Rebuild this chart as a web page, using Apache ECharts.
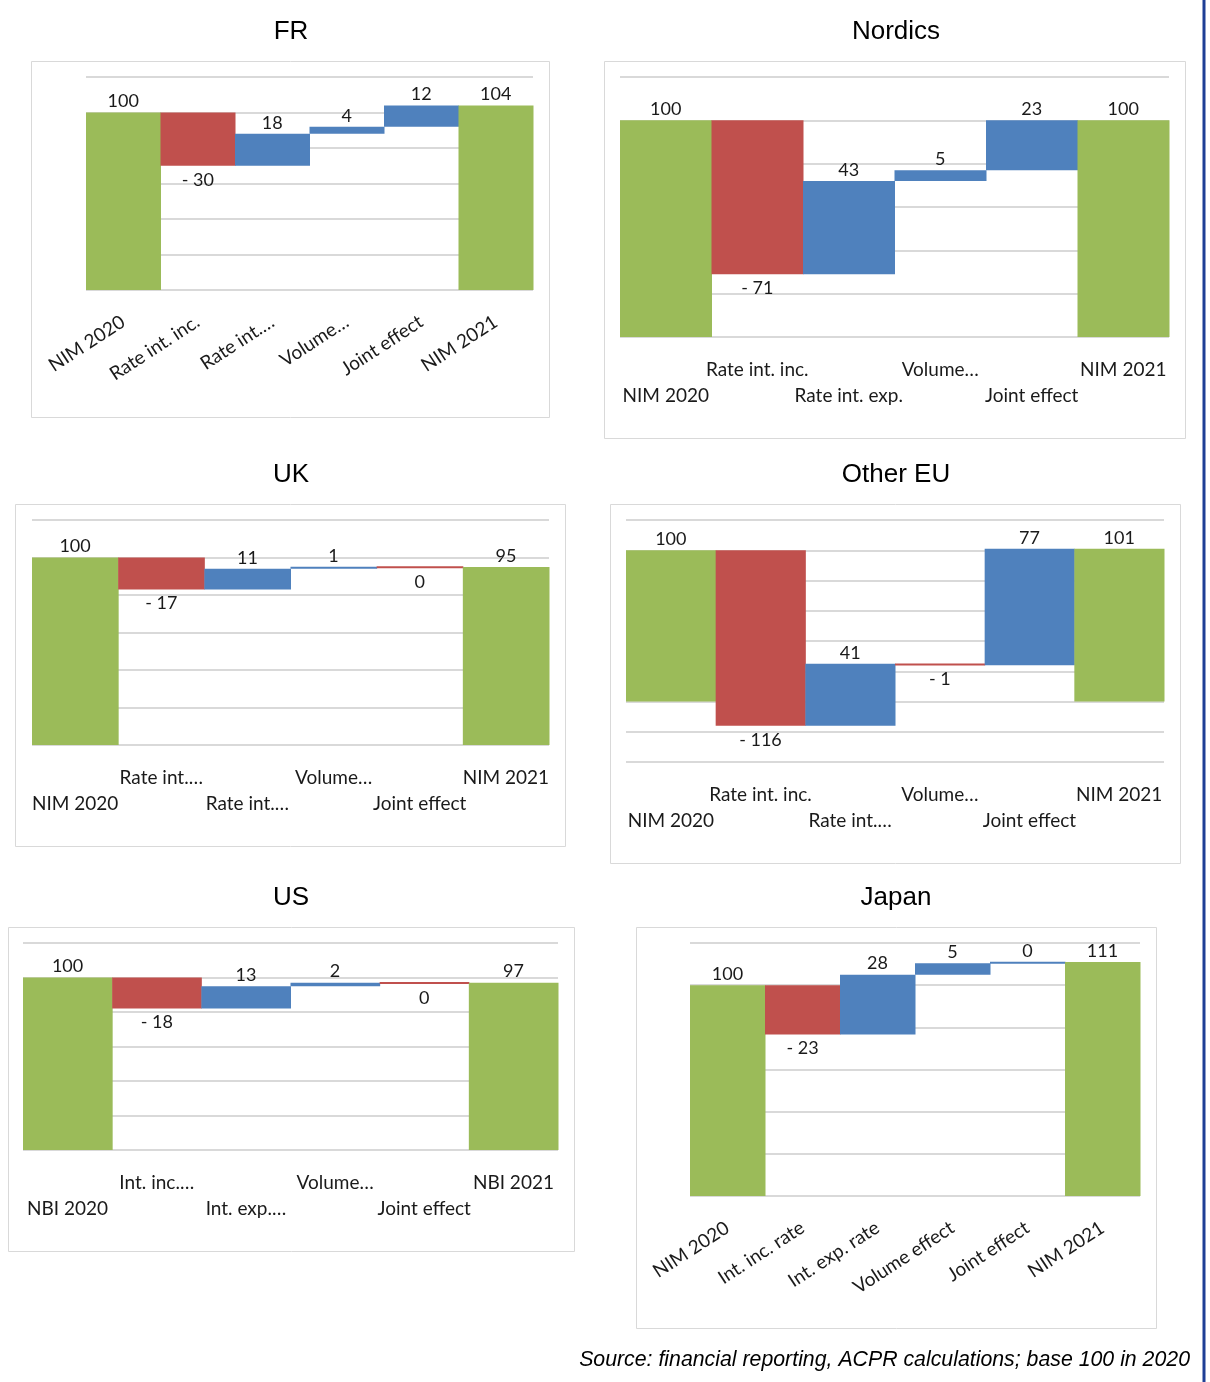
<!DOCTYPE html>
<html>
<head>
<meta charset="utf-8">
<script src="https://cdn.jsdelivr.net/npm/echarts@6/dist/echarts.min.js"></script>
<style>
  html, body { margin: 0; padding: 0; background: #ffffff; }
  #chart { width: 1210px; height: 1382px; }
</style>
</head>
<body>
<div id="chart"></div>
<script>
// ---------- DATA ----------
const frCategories = ['NIM 2020', 'Rate int. inc.', 'Rate int.…', 'Volume…', 'Joint effect', 'NIM 2021'];
const frValues = [100, -30, 18, 4, 12, 104];

const nordicsCategories = ['NIM 2020', 'Rate int. inc.', 'Rate int. exp.', 'Volume…', 'Joint effect', 'NIM 2021'];
const nordicsValues = [100, -71, 43, 5, 23, 100];

const ukCategories = ['NIM 2020', 'Rate int.…', 'Rate int.…', 'Volume…', 'Joint effect', 'NIM 2021'];
const ukValues = [100, -17, 11, 1, -0.4, 95];

const otherEuCategories = ['NIM 2020', 'Rate int. inc.', 'Rate int.…', 'Volume…', 'Joint effect', 'NIM 2021'];
const otherEuValues = [100, -116, 41, -1, 77, 101];

const usCategories = ['NBI 2020', 'Int. inc.…', 'Int. exp.…', 'Volume…', 'Joint effect', 'NBI 2021'];
const usValues = [100, -18, 13, 2, -0.4, 97];

const japanCategories = ['NIM 2020', 'Int. inc. rate', 'Int. exp. rate', 'Volume effect', 'Joint effect', 'NIM 2021'];
const japanValues = [100, -23.4, 28.4, 5.4, 0.4, 111];

const panelTitles = ['FR', 'Nordics', 'UK', 'Other EU', 'US', 'Japan'];
const sourceText = 'Source: financial reporting, ACPR calculations; base 100 in 2020';

// ---------- LAYOUT / STYLE ----------
const COLORS = { total: '#9bbb59', neg: '#c0504d', pos: '#4f81bd' };
const LABEL_FONT = 'Lato, "Open Sans", sans-serif';
const TITLE_FONT = '"Liberation Sans", Arial, sans-serif';

const panels = [
  { cats: frCategories, vals: frValues, box: [31, 61, 518, 356], title: [291, 30],
    grid: { left: 86, top: 77, width: 447, height: 213 }, y: [0, 120], rotate: 33 },
  { cats: nordicsCategories, vals: nordicsValues, box: [604, 61, 581, 377], title: [896, 30],
    grid: { left: 620, top: 77, width: 549, height: 260 }, y: [0, 120], rotate: 0 },
  { cats: ukCategories, vals: ukValues, box: [15, 504, 550, 342], title: [291, 473],
    grid: { left: 32, top: 520, width: 517, height: 225 }, y: [0, 120], rotate: 0 },
  { cats: otherEuCategories, vals: otherEuValues, box: [610, 504, 570, 359], title: [896, 473],
    grid: { left: 626, top: 520, width: 538, height: 242 }, y: [-40, 120], rotate: 0 },
  { cats: usCategories, vals: usValues, box: [8, 927, 566, 324], title: [291, 896],
    grid: { left: 23, top: 943, width: 535, height: 207 }, y: [0, 120], rotate: 0 },
  { cats: japanCategories, vals: japanValues, box: [636, 927, 520, 401], title: [896, 896],
    grid: { left: 690, top: 943, width: 450, height: 253 }, y: [0, 120], rotate: 33 }
];

function fmt(v) {
  const r = Math.round(Math.abs(v));
  return (v < 0 && r !== 0) ? '- ' + r : String(r);
}

function waterfallData(vals) {
  const out = [];
  let run = 0;
  vals.forEach((v, i) => {
    if (i === 0 || i === vals.length - 1) {
      out.push([i, 0, v, v]);
      run = v;
    } else {
      out.push([i, run, run + v, v]);
      run += v;
    }
  });
  return out;
}

function makeRender(n) {
  return function (params, api) {
    const i = api.value(0), s = api.value(1), e = api.value(2), v = api.value(3);
    const p1 = api.coord([i, s]);
    const p2 = api.coord([i, e]);
    const w = api.size([1, 0])[0];
    let top = Math.min(p1[1], p2[1]);
    let bot = Math.max(p1[1], p2[1]);
    if (bot - top < 2) { const m = (top + bot) / 2; top = m - 1; bot = m + 1; }
    const isTotal = (i === 0 || i === n - 1);
    const color = isTotal ? COLORS.total : (v < 0 ? COLORS.neg : COLORS.pos);
    const above = isTotal || v >= 0;
    return {
      type: 'group',
      children: [
        { type: 'rect', shape: { x: p1[0] - w / 2, y: top, width: w + 0.5, height: bot - top },
          style: { fill: color } },
        { type: 'text', style: {
            text: fmt(v), x: p1[0], y: above ? top - 2 : bot + 5,
            align: 'center', verticalAlign: above ? 'bottom' : 'top',
            fontSize: 18, fontFamily: LABEL_FONT, fill: '#1a1a1a' } }
      ]
    };
  };
}

const option = {
  animation: false,
  backgroundColor: '#ffffff',
  title: panels.map((p, k) => ({
    text: panelTitles[k], left: p.title[0], top: p.title[1] - 11, textAlign: 'center', padding: 0,
    textStyle: { fontSize: 26, fontWeight: 'normal', fontFamily: TITLE_FONT, color: '#000' }
  })),
  grid: panels.map(p => Object.assign({ containLabel: false }, p.grid)),
  xAxis: panels.map((p, k) => ({
    type: 'category', gridIndex: k, data: p.cats,
    axisLine: { show: false, onZero: false }, axisTick: { show: false },
    axisLabel: {
      interval: 0, rotate: p.rotate, margin: p.rotate ? 30 : 20,
      fontSize: 19, fontFamily: LABEL_FONT, color: '#1a1a1a', lineHeight: 26,
      formatter: p.rotate ? undefined : function (val, idx) { return idx % 2 === 0 ? '\n' + val : val; }
    },
    splitLine: { show: false }
  })),
  yAxis: panels.map((p, k) => ({
    type: 'value', gridIndex: k, min: p.y[0], max: p.y[1], interval: 20,
    axisLine: { show: false }, axisTick: { show: false }, axisLabel: { show: false },
    splitLine: { show: true, lineStyle: { color: '#d9d9d9', width: 2 } }
  })),
  series: panels.map((p, k) => ({
    type: 'custom', xAxisIndex: k, yAxisIndex: k,
    renderItem: makeRender(p.vals.length),
    data: waterfallData(p.vals), clip: false
  })),
  graphic: [
    ...panels.map(p => ({
      type: 'rect', silent: true, z: -10,
      shape: { x: p.box[0] + 0.5, y: p.box[1] + 0.5, width: p.box[2], height: p.box[3] },
      style: { fill: null, stroke: '#d9d9d9', lineWidth: 1 }
    })),
    { type: 'line', silent: true,
      shape: { x1: 1204, y1: 0, x2: 1204, y2: 1382 },
      style: { stroke: '#1f3f95', lineWidth: 3 } },
    { type: 'text', silent: true,
      style: { text: sourceText, x: 1190, y: 1360, align: 'right', verticalAlign: 'middle',
               fontSize: 21.3, fontStyle: 'italic', fontFamily: TITLE_FONT, fill: '#000' } }
  ]
};

const chart = echarts.init(document.getElementById('chart'), null, { renderer: 'canvas' });
chart.setOption(option);
</script>
</body>
</html>
